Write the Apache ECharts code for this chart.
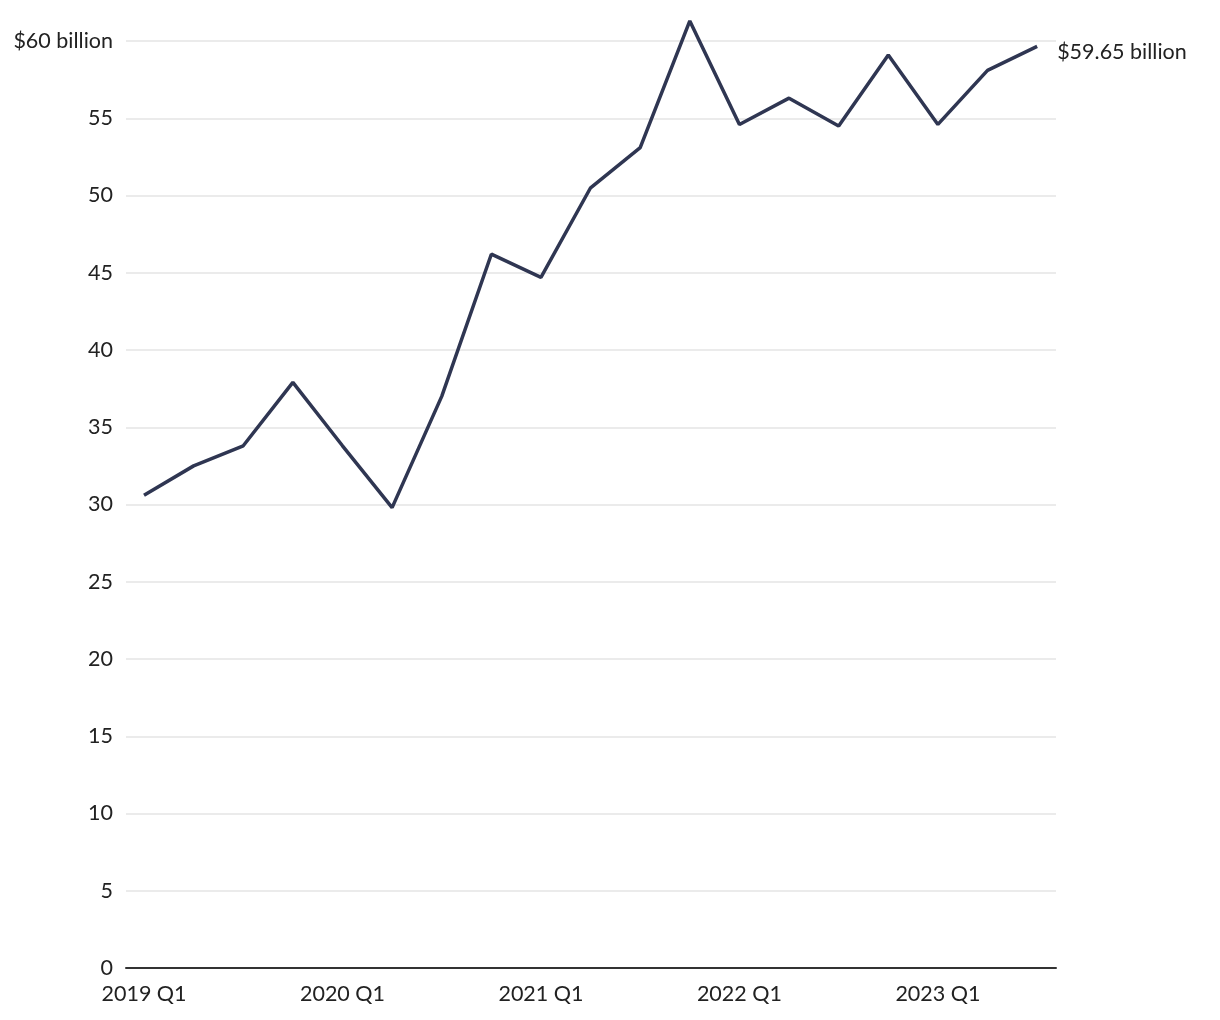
<!DOCTYPE html>
<html>
<head>
<meta charset="utf-8">
<script src="https://cdn.jsdelivr.net/npm/echarts@6/dist/echarts.min.js"></script>
<style>
html,body{margin:0;padding:0;background:#fff;}
#chart{width:1220px;height:1020px;}
</style>
</head>
<body>
<div id="chart"></div>
<script>
const categories = ["2019 Q1","2019 Q2","2019 Q3","2019 Q4","2020 Q1","2020 Q2","2020 Q3","2020 Q4","2021 Q1","2021 Q2","2021 Q3","2021 Q4","2022 Q1","2022 Q2","2022 Q3","2022 Q4","2023 Q1","2023 Q2","2023 Q3"];
const values = [30.6, 32.5, 33.8, 37.9, 33.8, 29.8, 37.0, 46.2, 44.7, 50.5, 53.1, 61.3, 54.6, 56.3, 54.5, 59.1, 54.6, 58.1, 59.65];
const xLabelIndices = [0, 4, 8, 12, 16];
const yTicks = [0, 5, 10, 15, 20, 25, 30, 35, 40, 45, 50, 55, 60];
const endLabelText = "$59.65 billion";

const FONT = "Lato";
const FS = 21.5;
const chart = echarts.init(document.getElementById('chart'), null, {renderer: 'canvas'});
chart.setOption({
  animation: false,
  backgroundColor: '#ffffff',
  grid: {left: 126, right: 164, top: 41, bottom: 52},
  xAxis: {
    type: 'value',
    min: -0.363,
    max: 18.38,
    axisLine: {show: true, onZero: false, lineStyle: {color: '#333333', width: 2}},
    axisTick: {show: false},
    splitLine: {show: false},
    axisLabel: {
      customValues: xLabelIndices,
      formatter: function (v) { return categories[Math.round(v)] || ''; },
      color: '#222222',
      fontFamily: FONT,
      fontSize: FS,
      margin: 15
    }
  },
  yAxis: {
    type: 'value',
    min: 0,
    max: 60,
    interval: 5,
    axisLine: {show: false},
    axisTick: {show: false},
    splitLine: {show: true, lineStyle: {color: '#e4e4e4', width: 1.5}},
    axisLabel: {
      customValues: yTicks,
      formatter: function (v) { return v === 60 ? '$60 billion' : String(v); },
      color: '#222222',
      fontFamily: FONT,
      fontSize: FS,
      margin: 13
    }
  },
  series: [{
    type: 'line',
    data: values.map(function (v, i) { return [i, v]; }),
    clip: false,
    symbol: 'none',
    lineStyle: {color: '#2f3652', width: 3.5},
    itemStyle: {color: '#2f3652'},
    endLabel: {
      show: true,
      formatter: function () { return endLabelText; },
      color: '#222222',
      fontFamily: FONT,
      fontSize: FS,
      distance: 20,
      offset: [0, 6]
    }
  }]
});
</script>
</body>
</html>
